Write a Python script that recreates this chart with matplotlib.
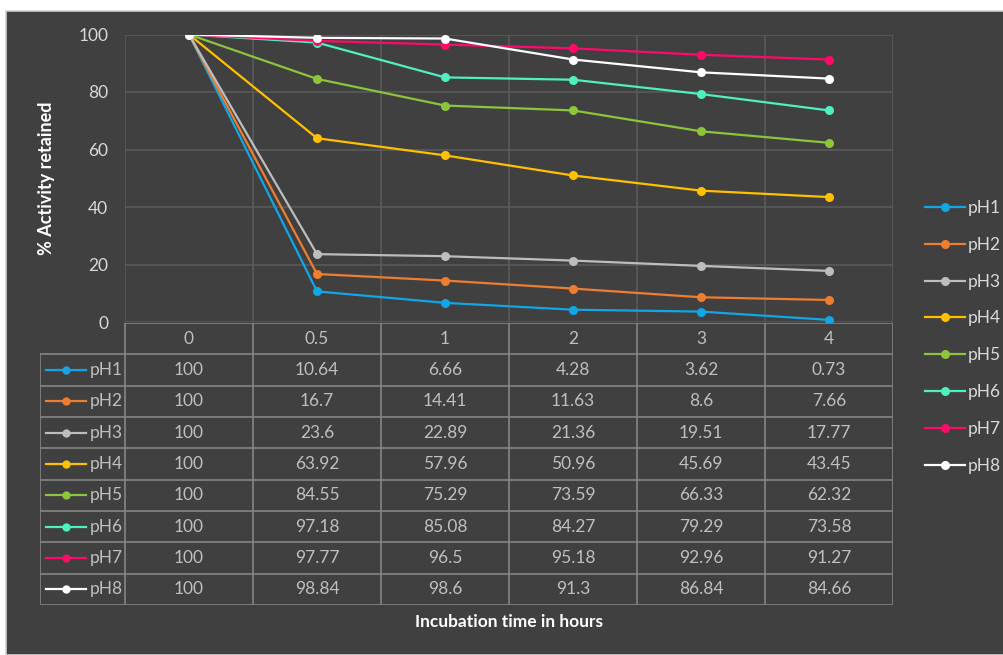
import matplotlib
matplotlib.use("Agg")
import matplotlib.pyplot as plt
from matplotlib.patches import Rectangle

plt.rcParams['font.family'] = ['Lato', 'DejaVu Sans']

# Incubation times (hours) and % activity retained at each pH
times = ["0", "0.5", "1", "2", "3", "4"]
series_names = ["pH1", "pH2", "pH3", "pH4", "pH5", "pH6", "pH7", "pH8"]
ph1 = [100, 10.64, 6.66, 4.28, 3.62, 0.73]
ph2 = [100, 16.7, 14.41, 11.63, 8.6, 7.66]
ph3 = [100, 23.6, 22.89, 21.36, 19.51, 17.77]
ph4 = [100, 63.92, 57.96, 50.96, 45.69, 43.45]
ph5 = [100, 84.55, 75.29, 73.59, 66.33, 62.32]
ph6 = [100, 97.18, 85.08, 84.27, 79.29, 73.58]
ph7 = [100, 97.77, 96.5, 95.18, 92.96, 91.27]
ph8 = [100, 98.84, 98.6, 91.3, 86.84, 84.66]
series_values = [ph1, ph2, ph3, ph4, ph5, ph6, ph7, ph8]
y_ticks = [0, 20, 40, 60, 80, 100]

colors = ["#12a6e4", "#ed7d31", "#bdbdbd", "#ffc000",
          "#8cc43c", "#4ff0c0", "#ff0a6a", "#ffffff"]

BG = "#404040"
GRID = "#5a5a5a"
TABLE_LINE = "#858585"
TICK_TXT = "#d9d9d9"
CELL_TXT = "#bfbfbf"

W, H = 1004, 655
fig = plt.figure(figsize=(W / 100, H / 100), dpi=100, facecolor="white")

# dark chart panel with a thin light frame
fig.patches.append(Rectangle((6 / W, 0), 1 - 6 / W, 1 - 11 / H,
                             transform=fig.transFigure, facecolor=BG,
                             edgecolor="#d0d0d0", linewidth=1.2, zorder=-10))

# ---- line chart ----
ax = fig.add_axes([125 / W, 1 - 322 / H, 768 / W, 287.5 / H])
ax.set_facecolor("none")
x = list(range(len(times)))
for name, vals, c in zip(series_names, series_values, colors):
    ax.plot(x, vals, color=c, lw=1.6, marker="o", markersize=6.5,
            markeredgewidth=0, label=name, zorder=3)

ax.set_xlim(-0.5, len(times) - 0.5)
ax.set_ylim(0, 100)
ax.set_yticks(y_ticks)
ax.set_yticklabels([str(v) for v in y_ticks], color=TICK_TXT, fontsize=12.5)
ax.set_xticks([])
ax.set_xticks([i - 0.5 for i in range(len(times) + 1)], minor=True)
ax.tick_params(axis="both", which="both", length=0, pad=12)
ax.grid(axis="y", which="major", color=GRID, lw=1.2)
ax.grid(axis="x", which="minor", color=GRID, lw=1.2)
for s in ax.spines.values():
    s.set_visible(False)
ax.set_ylabel("% Activity retained", color="white", fontsize=13,
              fontweight="bold", labelpad=17)

# ---- data table under the plot ----
n_rows = len(series_names)
left_w = 85 / 128  # width of the series-name column, in category units
tab = fig.add_axes([40 / W, 1 - 605 / H, 853 / W, 282 / H])
tab.set_xlim(-0.5 - left_w, len(times) - 0.5)
tab.set_ylim(n_rows + 1, 0)
tab.axis("off")
xl = -0.5 - left_w
xr = len(times) - 0.5
lk = dict(color=TABLE_LINE, lw=1.2, solid_capstyle="projecting")
tab.plot([-0.5, xr], [0, 0], **lk)
for r in range(1, n_rows + 2):
    tab.plot([xl, xr], [r, r], **lk)
tab.plot([xl, xl], [1, n_rows + 1], **lk)
for i in range(len(times) + 1):
    tab.plot([i - 0.5, i - 0.5], [0, n_rows + 1], **lk)
for i, t in enumerate(times):
    tab.text(i, 0.5, t, ha="center", va="center", color=CELL_TXT, fontsize=12.5)
for r, (name, vals, c) in enumerate(zip(series_names, series_values, colors), start=1):
    yc = r + 0.5
    tab.plot([xl + 6 / 128, xl + 46 / 128], [yc, yc], color=c, lw=1.6)
    tab.plot([xl + 26 / 128], [yc], marker="o", color=c, markersize=6,
             markeredgewidth=0)
    tab.text(xl + 50 / 128, yc, name, ha="left", va="center",
             color=CELL_TXT, fontsize=12.5)
    for i, v in enumerate(vals):
        tab.text(i, yc, f"{v:g}", ha="center", va="center",
                 color=CELL_TXT, fontsize=12.5)

fig.text(509 / W, 1 - 622 / H, "Incubation time in hours", ha="center",
         va="center", color="white", fontsize=12.5, fontweight="bold")

# ---- legend on the right ----
leg = fig.legend(*ax.get_legend_handles_labels(), loc="upper left",
                 bbox_to_anchor=(918 / W, 1 - 193 / H), frameon=False,
                 fontsize=12.5, handlelength=2.3, handletextpad=0.15,
                 labelspacing=1.2, labelcolor=TICK_TXT, borderaxespad=0)

fig.savefig("out.png", dpi=100, facecolor=fig.get_facecolor())
